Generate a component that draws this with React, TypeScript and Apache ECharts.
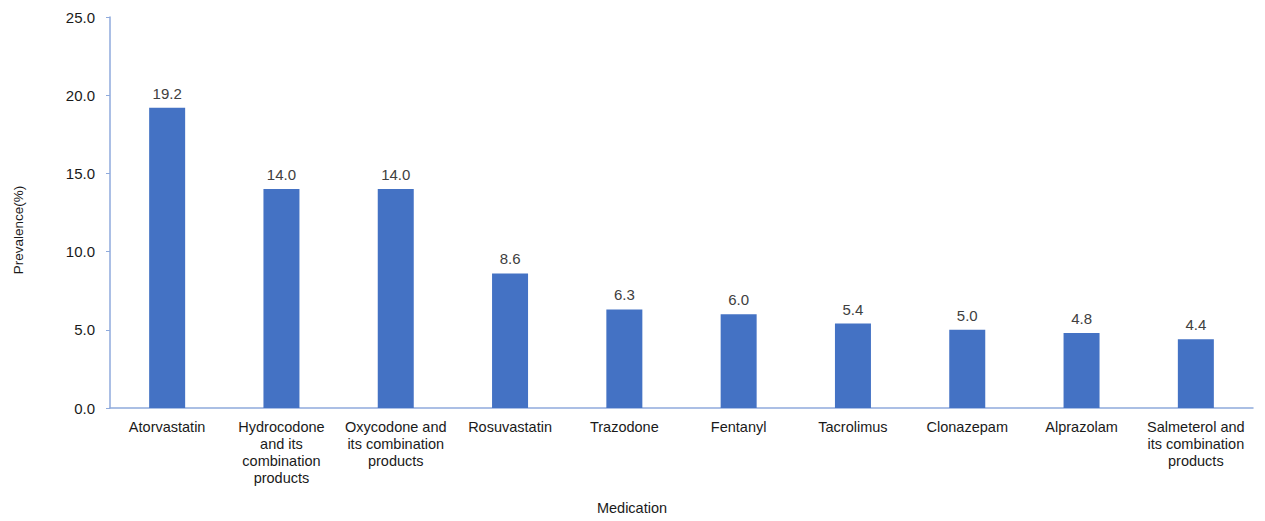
import React, { useEffect, useRef } from "react";
import * as echarts from "echarts";

const categories = [
  "Atorvastatin",
  "Hydrocodone and its combination products",
  "Oxycodone and its combination products",
  "Rosuvastatin",
  "Trazodone",
  "Fentanyl",
  "Tacrolimus",
  "Clonazepam",
  "Alprazolam",
  "Salmeterol and its combination products",
];
const tickLabels = [
  "Atorvastatin",
  "Hydrocodone\nand its\ncombination\nproducts",
  "Oxycodone and\nits combination\nproducts",
  "Rosuvastatin",
  "Trazodone",
  "Fentanyl",
  "Tacrolimus",
  "Clonazepam",
  "Alprazolam",
  "Salmeterol and\nits combination\nproducts",
];
const prevalence = [19.2, 14.0, 14.0, 8.6, 6.3, 6.0, 5.4, 5.0, 4.8, 4.4];
const yTicks = { min: 0, max: 25, interval: 5 };

const FONT = "'Liberation Sans', Arial, sans-serif";

export default function App() {
  const ref = useRef<HTMLDivElement>(null);
  useEffect(() => {
    if (!ref.current) return;
    const chart = echarts.init(ref.current, undefined, { renderer: "svg" });
    chart.setOption({
      animation: false,
      textStyle: { fontFamily: FONT },
      grid: { left: 110, top: 17, right: 12, bottom: 113 },
      xAxis: {
        type: "category",
        data: categories,
        axisLine: { lineStyle: { color: "#8FAADC", width: 1.5 } },
        axisTick: { show: false },
        axisLabel: {
          interval: 0,
          margin: 10,
          color: "#1a1a1a",
          fontSize: 14.5,
          lineHeight: 17,
          fontFamily: FONT,
          formatter: (_v: string, i: number) => tickLabels[i],
        },
      },
      yAxis: {
        type: "value",
        min: yTicks.min,
        max: yTicks.max,
        interval: yTicks.interval,
        splitLine: { show: false },
        axisLine: { show: true, lineStyle: { color: "#8FAADC", width: 1.5 } },
        axisTick: { show: true, length: 4, lineStyle: { color: "#8FAADC" } },
        axisLabel: {
          margin: 15,
          color: "#1a1a1a",
          fontSize: 15,
          fontFamily: FONT,
          formatter: (v: number) => v.toFixed(1),
        },
      },
      graphic: [
        {
          type: "text",
          x: 18,
          y: 230,
          rotation: Math.PI / 2,
          style: {
            text: "Prevalence(%)",
            fontSize: 13.5,
            fontFamily: FONT,
            fill: "#1a1a1a",
            align: "center",
            verticalAlign: "middle",
          },
        },
        {
          type: "text",
          x: 632,
          y: 508,
          style: {
            text: "Medication",
            fontSize: 14.5,
            fontFamily: FONT,
            fill: "#1a1a1a",
            align: "center",
            verticalAlign: "middle",
          },
        },
      ],
      series: [
        {
          type: "bar",
          data: prevalence,
          barWidth: 36,
          itemStyle: { color: "#4472C4" },
          label: {
            show: true,
            position: "top",
            distance: 7,
            color: "#404040",
            fontSize: 15,
            fontFamily: FONT,
            formatter: (p: any) => Number(p.value).toFixed(1),
          },
        },
      ],
    });
    return () => chart.dispose();
  }, []);
  return (
    <div
      ref={ref}
      style={{ position: "fixed", left: 0, top: 0, width: 1265, height: 521, background: "#fff" }}
    />
  );
}
